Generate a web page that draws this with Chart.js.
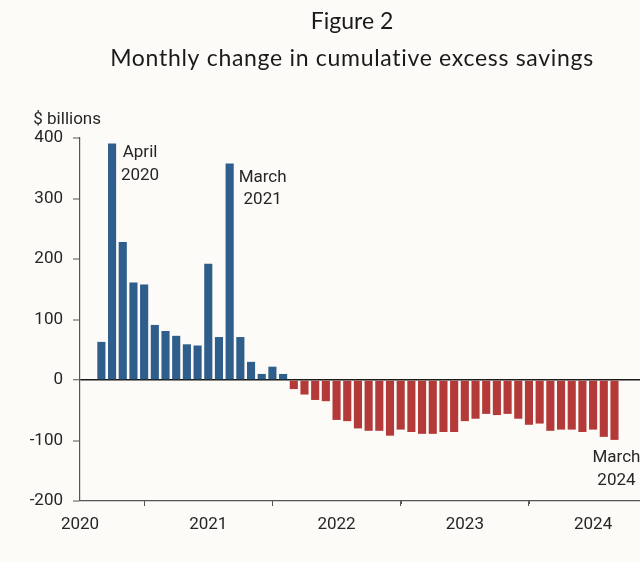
<!DOCTYPE html>
<html><head><meta charset="utf-8">
<script src="https://cdn.jsdelivr.net/npm/chart.js@4.4.1/dist/chart.umd.min.js"></script>
<style>
html,body{margin:0;padding:0;background:#fcfbf7;overflow:hidden;width:640px;height:562px;}
#wrap{position:absolute;left:0;top:0;width:704px;height:562px;}
</style></head><body>
<div id="wrap"><canvas id="c" width="704" height="562"></canvas></div>
<script>
// ---- data ----
const months = [
  '2020-03','2020-04','2020-05','2020-06','2020-07','2020-08','2020-09','2020-10','2020-11','2020-12',
  '2021-01','2021-02','2021-03','2021-04','2021-05','2021-06','2021-07','2021-08','2021-09','2021-10','2021-11','2021-12',
  '2022-01','2022-02','2022-03','2022-04','2022-05','2022-06','2022-07','2022-08','2022-09','2022-10','2022-11','2022-12',
  '2023-01','2023-02','2023-03','2023-04','2023-05','2023-06','2023-07','2023-08','2023-09','2023-10','2023-11','2023-12',
  '2024-01','2024-02','2024-03'
];
const values = [
  63, 391, 228, 161, 158, 91, 81, 73, 59, 57,
  192, 71, 358, 71, 30, 10, 22, 10, -15, -24, -33, -35,
  -66, -68, -80, -84, -84, -92, -82, -86, -89, -89, -86, -86,
  -68, -64, -56, -58, -56, -64, -74, -72, -84, -82, -82, -86,
  -82, -94, -99
];
const yTickValues = [-200, -100, 0, 100, 200, 300, 400];
const yearLabels = ['2020', '2021', '2022', '2023', '2024'];
const halfYearLabels = ['2020-07', '2021-07', '2022-07', '2023-07', '2024-07'];
const annotations = [
  { month: '2020-04', lines: ['April', '2020'] },
  { month: '2021-03', lines: ['March', '2021'] },
  { month: '2024-03', lines: ['March', '2024'] }
];
const chartTitle = 'Figure 2';
const chartSubtitle = 'Monthly change in cumulative excess savings';
const yUnit = '$ billions';

// ---- helpers / styles ----
const monthIndex = m => (parseInt(m.slice(0, 4)) - 2020) * 12 + parseInt(m.slice(5, 7)) - 1;
const BLUE = '#2f5d8c', RED = '#b43a39', AXIS = '#555555', TEXT = '#262626';
const annStyle = [ {dx: 28, dy: 14, gap: 22.5}, {dx: 33, dy: 18.5, gap: 22.5}, {dx: 2, dy: 22.5, gap: 22.5} ];
const majorTicks = yearLabels.map(y => monthIndex(y + '-01'));
const minorTicks = halfYearLabels.map(m => monthIndex(m));

const textPlugin = {
  id: 'texts',
  afterDraw(chart) {
    const ctx = chart.ctx, xs = chart.scales.x, ys = chart.scales.y;
    ctx.save();
    // minor ticks
    ctx.strokeStyle = AXIS; ctx.lineWidth = 1;
    minorTicks.forEach(v => {
      const px = Math.round(xs.getPixelForValue(v)) + 0.5;
      ctx.beginPath(); ctx.moveTo(px, ys.bottom); ctx.lineTo(px, ys.bottom + 3); ctx.stroke();
    });
    // titles
    ctx.fillStyle = '#1a1a1a';
    ctx.textAlign = 'center'; ctx.textBaseline = 'alphabetic';
    ctx.font = '23px Lato';
    ctx.fillText(chartTitle, 352, 28.5);
    ctx.font = '23px Lato';
    if ('letterSpacing' in ctx) ctx.letterSpacing = '0.7px';
    ctx.fillText(chartSubtitle, 352, 65.5);
    if ('letterSpacing' in ctx) ctx.letterSpacing = '0px';
    // unit
    ctx.fillStyle = TEXT;
    ctx.font = '17px Roboto';
    ctx.textAlign = 'right';
    ctx.fillText(yUnit, 101, 123.5);
    // annotations
    ctx.textAlign = 'center';
    annotations.forEach((a, i) => {
      const idx = months.indexOf(a.month);
      const st = annStyle[i];
      const x = xs.getPixelForValue(monthIndex(a.month)) + st.dx;
      const y = ys.getPixelForValue(values[idx]) + st.dy;
      a.lines.forEach((l, j) => ctx.fillText(l, x, y + j * st.gap));
    });
    ctx.restore();
  }
};

new Chart(document.getElementById('c'), {
  type: 'bar',
  data: {
    datasets: [{
      data: months.map((m, i) => ({ x: monthIndex(m), y: values[i] })),
      backgroundColor: values.map(v => v >= 0 ? BLUE : RED),
      borderWidth: 0,
      categoryPercentage: 1,
      barPercentage: 0.76
    }]
  },
  options: {
    responsive: false,
    animation: false,
    devicePixelRatio: 1,
    layout: { padding: { top: 138, left: 0, right: 4, bottom: 0 } },
    plugins: { legend: { display: false }, tooltip: { enabled: false }, title: { display: false } },
    scales: {
      x: {
        type: 'linear',
        min: 0, max: 58,
        offset: false,
        afterBuildTicks: s => { s.ticks = majorTicks.map(v => ({ value: v })); },
        afterFit: s => { s.height = 61; },
        ticks: {
          autoSkip: false, maxRotation: 0,
          padding: 9,
          color: TEXT,
          font: { family: 'Roboto', size: 17 },
          callback: v => yearLabels[majorTicks.indexOf(v)]
        },
        grid: { display: true, drawOnChartArea: false, tickLength: 5, tickColor: AXIS, tickWidth: 1 },
        border: { display: true, color: AXIS, width: 1.2 }
      },
      y: {
        min: -200, max: 400,
        afterBuildTicks: s => { s.ticks = yTickValues.map(v => ({ value: v })); },
        afterFit: s => { s.width = 80; },
        ticks: {
          padding: 10,
          color: TEXT,
          font: { family: 'Roboto', size: 17 }
        },
        grid: {
          display: true, drawOnChartArea: true, tickLength: 7,
          color: c => c.tick && c.tick.value === 0 ? '#1a1a1a' : 'rgba(0,0,0,0)',
          lineWidth: c => c.tick && c.tick.value === 0 ? 1.5 : 0,
          tickColor: AXIS, tickWidth: 1
        },
        border: { display: true, color: AXIS, width: 1.2 }
      }
    }
  },
  plugins: [textPlugin]
});
</script>
</body></html>
